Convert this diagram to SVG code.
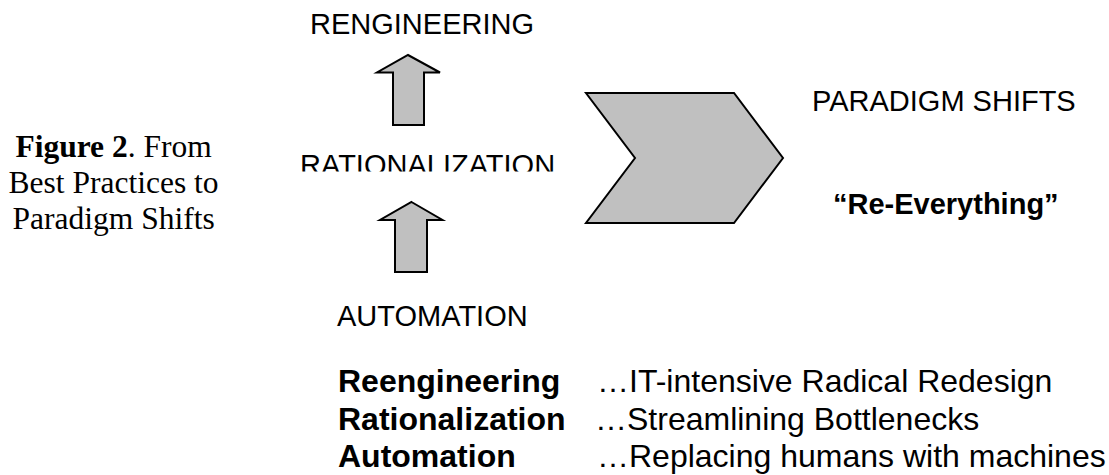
<svg xmlns="http://www.w3.org/2000/svg" width="1109" height="475" viewBox="0 0 1109 475">
<style>
.lbl{font-family:"Liberation Sans",Arial,sans-serif;font-size:29px;fill:#000}
.b{font-weight:bold}
.cap{font-family:"Liberation Serif","Times New Roman",serif;font-size:31.5px;fill:#000}
.list{font-family:"Liberation Sans",Arial,sans-serif;font-size:32px;fill:#000}
.shape{fill:#c0c0c0;stroke:#000;stroke-width:2;stroke-linejoin:miter}
</style>
<defs>
<clipPath id="clipRat"><rect x="280" y="140" width="300" height="31.5"/></clipPath>
</defs>
<rect width="1109" height="475" fill="#fff"/>
<g id="caption">
<text class="cap" text-anchor="middle" x="113.6" y="157"><tspan font-weight="bold">Figure 2</tspan>. From</text>
<text class="cap" text-anchor="middle" x="113.6" y="193">Best Practices to</text>
<text class="cap" text-anchor="middle" x="113.6" y="229">Paradigm Shifts</text>
</g>
<g id="reengineering"><text class="lbl" x="310" y="34">RENGINEERING</text></g>
<g id="rationalization" clip-path="url(#clipRat)"><text class="lbl" x="300" y="175">RATIONALIZATION</text></g>
<g id="automation"><text class="lbl" x="337" y="326">AUTOMATION</text></g>
<g id="paradigm"><text class="lbl" x="812" y="111">PARADIGM SHIFTS</text></g>
<g id="reeverything"><text class="lbl b" x="833" y="214">“Re-Everything”</text></g>
<g id="chevron"><polygon class="shape" points="586,93 734,93 783,158 734,223 586,223 635,158"/></g>
<g id="connectors">
<polygon class="shape" points="408,55 440,72.5 424,72.5 424,125 393,125 393,72.5 377,72.5"/>
<polygon class="shape" points="411.5,202 442.5,220 427,220 427,272 395,272 395,220 380,220"/>
</g>
<g id="legend">
<text class="list b" x="338" y="392">Reengineering</text>
<text class="list b" x="338" y="430">Rationalization</text>
<text class="list b" x="338" y="467">Automation</text>
<text class="list" x="597" y="392">…IT-intensive Radical Redesign</text>
<text class="list" x="595" y="430">…Streamlining Bottlenecks</text>
<text class="list" x="597" y="467">…Replacing humans with machines</text>
</g>
</svg>
